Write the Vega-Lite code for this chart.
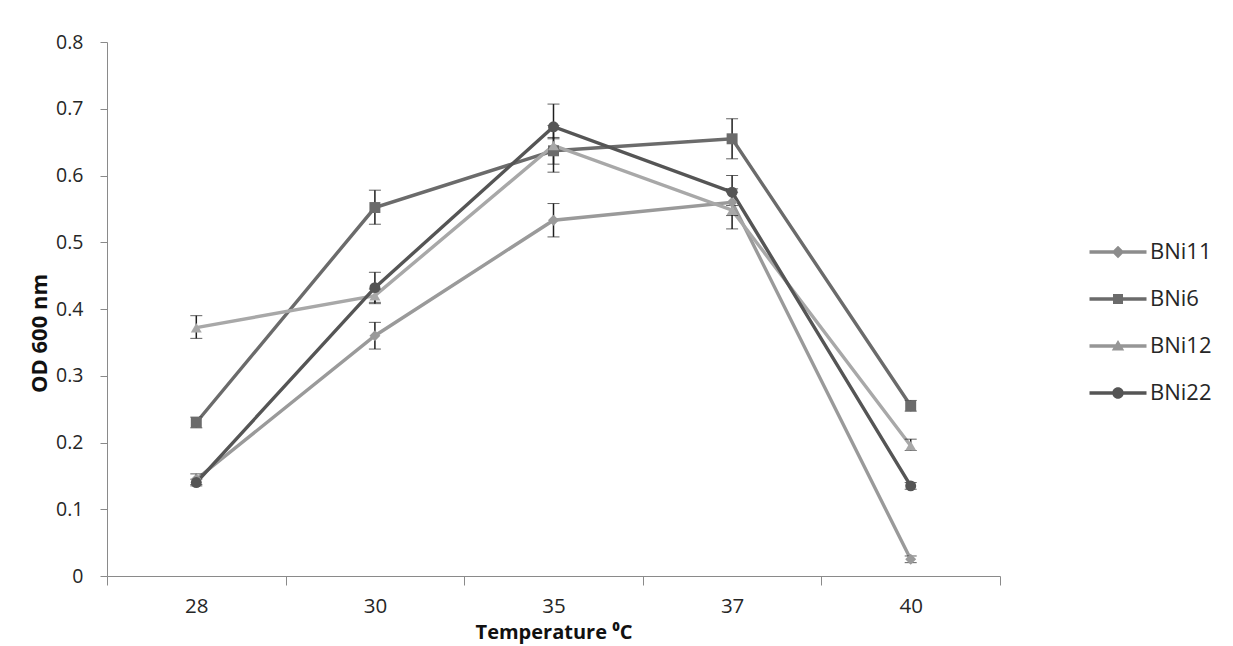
{
  "$schema": "https://vega.github.io/schema/vega-lite/v6.json",
  "width": 893,
  "height": 534,
  "autosize": "none",
  "padding": {"left": 107, "top": 42, "right": 233, "bottom": 70},
  "background": "white",
  "config": {
    "view": {"stroke": null},
    "font": "Open Sans",
    "axis": {"grid": false, "domainColor": "#8a8a8a", "tickColor": "#8a8a8a", "labelColor": "#262626", "titleColor": "#111111", "labelFont": "Open Sans", "titleFont": "Open Sans"}
  },
  "data": {"values": [
    {"s": "BNi11", "t": "28", "v": 0.145, "lo": 0.137, "hi": 0.153},
    {"s": "BNi11", "t": "30", "v": 0.36, "lo": 0.34, "hi": 0.38},
    {"s": "BNi11", "t": "35", "v": 0.533, "lo": 0.508, "hi": 0.558},
    {"s": "BNi11", "t": "37", "v": 0.56, "lo": 0.54, "hi": 0.58},
    {"s": "BNi11", "t": "40", "v": 0.025, "lo": 0.02, "hi": 0.03},
    {"s": "BNi6", "t": "28", "v": 0.23, "lo": 0.222, "hi": 0.238},
    {"s": "BNi6", "t": "30", "v": 0.552, "lo": 0.527, "hi": 0.578},
    {"s": "BNi6", "t": "35", "v": 0.637, "lo": 0.617, "hi": 0.657},
    {"s": "BNi6", "t": "37", "v": 0.655, "lo": 0.625, "hi": 0.685},
    {"s": "BNi6", "t": "40", "v": 0.255, "lo": 0.247, "hi": 0.263},
    {"s": "BNi12", "t": "28", "v": 0.372, "lo": 0.356, "hi": 0.39},
    {"s": "BNi12", "t": "30", "v": 0.42, "lo": 0.41, "hi": 0.43},
    {"s": "BNi12", "t": "35", "v": 0.645, "lo": 0.605, "hi": 0.675},
    {"s": "BNi12", "t": "37", "v": 0.548, "lo": 0.52, "hi": 0.575},
    {"s": "BNi12", "t": "40", "v": 0.195, "lo": 0.188, "hi": 0.205},
    {"s": "BNi22", "t": "28", "v": 0.14, "lo": 0.135, "hi": 0.145},
    {"s": "BNi22", "t": "30", "v": 0.432, "lo": 0.408, "hi": 0.455},
    {"s": "BNi22", "t": "35", "v": 0.673, "lo": 0.655, "hi": 0.707},
    {"s": "BNi22", "t": "37", "v": 0.575, "lo": 0.555, "hi": 0.6},
    {"s": "BNi22", "t": "40", "v": 0.135, "lo": 0.13, "hi": 0.14}
  ]},
  "layer": [
    {
      "mark": {"type": "line", "strokeWidth": 3.4},
      "encoding": {
        "x": {"field": "t", "type": "ordinal", "sort": ["28", "30", "35", "37", "40"], "scale": {"type": "band", "paddingInner": 0, "paddingOuter": 0},
          "axis": {"title": "Temperature ⁰C", "labelAngle": 0, "tickBand": "extent", "tickSize": 9, "labelPadding": 11, "labelFontSize": 20.5, "titleFontSize": 20, "titleFontWeight": "bold", "titleBaseline": "alphabetic", "titleY": 62}},
        "y": {"field": "v", "type": "quantitative", "title": "OD 600 nm", "scale": {"domain": [0, 0.8], "nice": false},
          "axis": {"title": "OD 600 nm", "values": [0, 0.1, 0.2, 0.3, 0.4, 0.5, 0.6, 0.7, 0.8], "format": ".1~f", "tickSize": 7, "labelPadding": 17, "labelFontSize": 19.5, "titleFontSize": 22, "titleFontWeight": "bold", "titlePadding": 4, "titleY": 291}},
        "color": {"field": "s", "type": "nominal", "scale": {"domain": ["BNi11", "BNi6", "BNi12", "BNi22"], "range": ["#9a9a9a", "#6b6b6b", "#a8a8a8", "#555555"]}, "legend": null}
      }
    },
    {
      "mark": {"type": "errorbar", "ticks": {"size": 12, "color": "#1e1e1e", "strokeWidth": 2}, "rule": {"color": "#1e1e1e", "strokeWidth": 1.5}},
      "encoding": {
        "x": {"field": "t", "type": "ordinal", "sort": ["28", "30", "35", "37", "40"]},
        "y": {"field": "lo", "type": "quantitative", "title": "OD 600 nm"},
        "y2": {"field": "hi"},
        "detail": {"field": "s"}
      }
    },
    {
      "mark": {"type": "point", "filled": true, "size": 120, "opacity": 1},
      "encoding": {
        "x": {"field": "t", "type": "ordinal", "sort": ["28", "30", "35", "37", "40"]},
        "y": {"field": "v", "type": "quantitative", "title": "OD 600 nm"},
        "color": {"field": "s", "type": "nominal", "scale": {"domain": ["BNi11", "BNi6", "BNi12", "BNi22"], "range": ["#9a9a9a", "#6b6b6b", "#a8a8a8", "#555555"]}, "legend": null},
        "shape": {"field": "s", "type": "nominal", "scale": {"domain": ["BNi11", "BNi6", "BNi12", "BNi22"], "range": ["diamond", "square", "triangle-up", "circle"]}, "legend": null}
      }
    },
    {
      "data": {"values": []},
      "mark": {"type": "point", "filled": true, "opacity": 1},
      "encoding": {
        "color": {"field": "s", "type": "nominal", "scale": {"domain": ["BNi11", "BNi6", "BNi12", "BNi22"], "range": ["#8c8c8c", "#6b6b6b", "#969696", "#555555"]},
          "legend": {"title": null, "orient": "none", "legendX": 1000, "legendY": 199, "padding": 0, "symbolSize": 100, "symbolStrokeWidth": 0, "labelFontSize": 22, "labelOffset": 21, "rowPadding": 25, "labelColor": "#262626", "labelFont": "Open Sans"}},
        "shape": {"field": "s", "type": "nominal", "scale": {"domain": ["BNi11", "BNi6", "BNi12", "BNi22"], "range": [
          "M-5.7,-0.35L5.7,-0.35L5.7,0.35L-5.7,0.35Z M0,-1.25L1.25,0L0,1.25L-1.25,0Z",
          "M-5.7,-0.35L5.7,-0.35L5.7,0.35L-5.7,0.35Z M-1,-1L1,-1L1,1L-1,1Z",
          "M-5.7,-0.35L5.7,-0.35L5.7,0.35L-5.7,0.35Z M0,-1.2L1.25,0.9L-1.25,0.9Z",
          "M-5.7,-0.35L5.7,-0.35L5.7,0.35L-5.7,0.35Z M1.15,0A1.15,1.15 0 1,1 -1.15,0A1.15,1.15 0 1,1 1.15,0Z"
        ]},
          "legend": {"title": null, "orient": "none", "legendX": 1000, "legendY": 199, "padding": 0, "symbolSize": 100, "symbolStrokeWidth": 0, "labelFontSize": 22, "labelOffset": 21, "rowPadding": 25, "labelColor": "#262626", "labelFont": "Open Sans"}}
      }
    }
  ],
  "resolve": {"scale": {"color": "independent", "shape": "independent"}, "legend": {"color": "independent", "shape": "independent"}}
}
